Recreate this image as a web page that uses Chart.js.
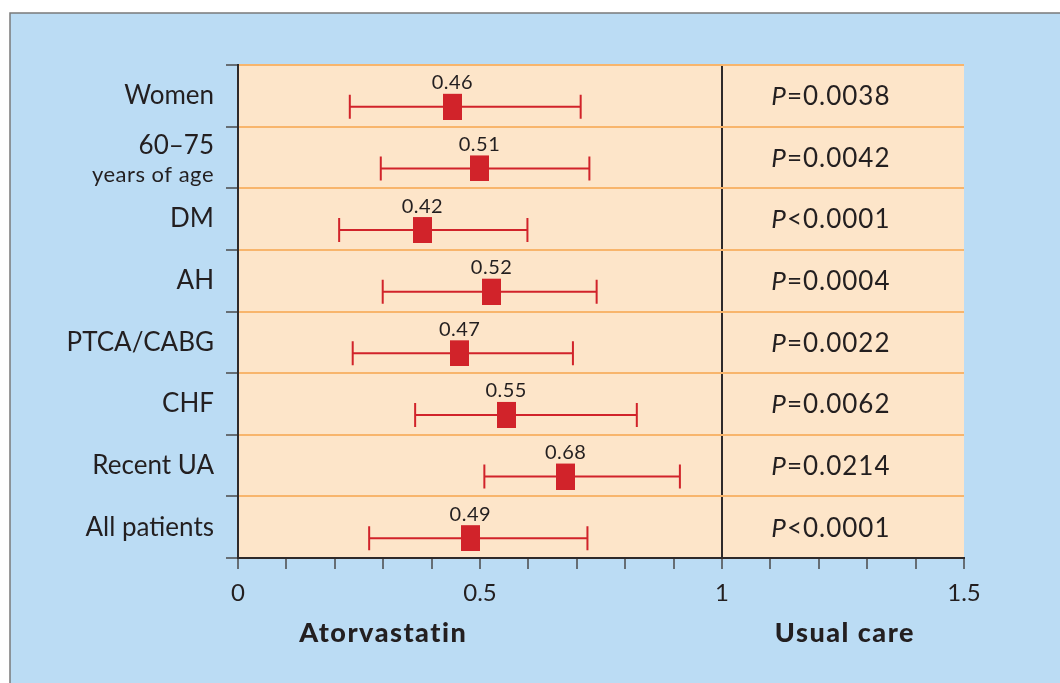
<!DOCTYPE html>
<html lang="en">
  <head>
    <meta charset="UTF-8" />
    <title>Atorvastatin vs usual care</title>
    <script src="https://cdn.jsdelivr.net/npm/chart.js@4"></script>
    <style>
      body { margin: 0; background: #fff; }
    </style>
  </head>
  <body>
    <canvas id="myChart" width="1060" height="683"></canvas>

    <script>
      // subgroups, top to bottom
      const groups = ['Women', '60–75', 'DM', 'AH', 'PTCA/CABG', 'CHF', 'Recent UA', 'All patients'];
      const groupNotes = ['', 'years of age', '', '', '', '', '', ''];
      // point estimate and 95% CI as drawn
      const estimates = [0.443, 0.499, 0.381, 0.524, 0.458, 0.554, 0.677, 0.480];
      const lower = [0.231, 0.295, 0.209, 0.299, 0.237, 0.366, 0.509, 0.271];
      const upper = [0.708, 0.726, 0.598, 0.741, 0.692, 0.824, 0.913, 0.722];
      const ratioLabels = ['0.46', '0.51', '0.42', '0.52', '0.47', '0.55', '0.68', '0.49'];
      const pSigns = ['=', '=', '<', '=', '=', '=', '=', '<'];
      const pValues = ['0.0038', '0.0042', '0.0001', '0.0004', '0.0022', '0.0062', '0.0214', '0.0001'];
      const xTickLabels = [0, 0.5, 1, 1.5];

      const BLUE = '#bbdcf4';
      const PEACH = '#fde5c9';
      const ORANGE = '#f8b56c';
      const RED = '#d1232a';
      const INK = '#231f20';
      const FONT = 'Lato, "DejaVu Sans", sans-serif';

      // square marker, drawn lower than the row centre
      const marker = document.createElement('canvas');
      marker.width = 19;
      marker.height = 48;
      const mctx = marker.getContext('2d');
      mctx.fillStyle = RED;
      mctx.fillRect(0, 22, 19, 26);

      const forest = {
        id: 'forest',
        beforeDraw(chart) {
          const { ctx, chartArea: a } = chart;
          ctx.save();
          ctx.fillStyle = '#fff';
          ctx.fillRect(0, 0, chart.width, chart.height);
          ctx.fillStyle = BLUE;
          ctx.fillRect(10, 13, chart.width - 10, chart.height - 13);
          ctx.strokeStyle = '#7a7a7a';
          ctx.lineWidth = 1.5;
          ctx.beginPath();
          ctx.moveTo(10, chart.height);
          ctx.lineTo(10, 13);
          ctx.lineTo(chart.width, 13);
          ctx.stroke();
          ctx.fillStyle = PEACH;
          ctx.fillRect(a.left, a.top, a.right - a.left, a.bottom - a.top);
          ctx.restore();
        },
        beforeDatasetsDraw(chart) {
          const { ctx, scales: { x, y } } = chart;
          ctx.save();
          ctx.strokeStyle = RED;
          ctx.lineWidth = 2;
          groups.forEach((g, i) => {
            const yc = y.getPixelForValue(i) + 11;
            const x0 = x.getPixelForValue(lower[i]);
            const x1 = x.getPixelForValue(upper[i]);
            ctx.beginPath();
            ctx.moveTo(x0, yc);
            ctx.lineTo(x1, yc);
            ctx.moveTo(x0, yc - 12);
            ctx.lineTo(x0, yc + 12);
            ctx.moveTo(x1, yc - 12);
            ctx.lineTo(x1, yc + 12);
            ctx.stroke();
          });
          ctx.restore();
        },
        afterDatasetsDraw(chart) {
          const { ctx, scales: { x, y } } = chart;
          ctx.save();
          ctx.fillStyle = INK;
          ctx.textBaseline = 'middle';
          groups.forEach((g, i) => {
            const yc = y.getPixelForValue(i);
            // value above marker
            ctx.textAlign = 'center';
            ctx.letterSpacing = '0.5px';
            ctx.font = '20px ' + FONT;
            ctx.fillText(ratioLabels[i], x.getPixelForValue(estimates[i]), yc - 13);

            // P value in the usual care panel
            ctx.letterSpacing = '1px';
            ctx.font = 'italic 26px ' + FONT;
            const pW = ctx.measureText('P').width;
            ctx.font = '26px ' + FONT;
            const rest = pSigns[i] + pValues[i];
            const rW = ctx.measureText(rest).width;
            const cx = x.getPixelForValue(1.225);
            const start = cx - (pW + rW) / 2;
            ctx.textAlign = 'left';
            ctx.font = 'italic 26px ' + FONT;
            ctx.fillText('P', start, yc + 1);
            ctx.font = '26px ' + FONT;
            ctx.fillText(rest, start + pW, yc + 1);

            // row labels
            ctx.letterSpacing = '0px';
            ctx.textAlign = 'right';
            if (groupNotes[i]) {
              ctx.font = '26px ' + FONT;
              ctx.fillText(g, 214, yc - 12);
              ctx.letterSpacing = '0.5px';
              ctx.font = '22px ' + FONT;
              ctx.fillText(groupNotes[i], 214, yc + 17);
              ctx.letterSpacing = '0px';
            } else {
              ctx.font = '26px ' + FONT;
              ctx.fillText(g, 214, yc);
            }
          });

          ctx.textAlign = 'center';
          ctx.letterSpacing = '1.5px';
          ctx.font = '900 27px ' + FONT;
          ctx.fillText('Atorvastatin', x.getPixelForValue(0.3), 633);
          ctx.fillText('Usual care', x.getPixelForValue(1.254), 633);
          ctx.restore();
        }
      };

      const ctx = document.getElementById('myChart').getContext('2d');
      const myChart = new Chart(ctx, {
        type: 'scatter',
        data: {
          labels: groups,
          datasets: [
            {
              label: 'Atorvastatin',
              data: groups.map((g, i) => ({ x: estimates[i], y: g })),
              pointStyle: marker,
              pointRadius: 10,
              pointHoverRadius: 10
            }
          ]
        },
        options: {
          responsive: false,
          devicePixelRatio: 1,
          animation: false,
          layout: { padding: { left: 10, right: 96, top: 65, bottom: 0 } },
          plugins: {
            legend: { display: false },
            tooltip: { enabled: false }
          },
          scales: {
            x: {
              type: 'linear',
              min: 0,
              max: 1.5,
              afterFit: s => { s.height = 125; },
              afterBuildTicks: s => {
                const t = [];
                for (let k = 0; k <= 15; k++) t.push({ value: k / 10 });
                s.ticks = t;
              },
              ticks: {
                autoSkip: false,
                maxRotation: 0,
                padding: 10,
                color: INK,
                font: { family: FONT, size: 24 },
                callback: v => {
                  const hit = xTickLabels.find(l => Math.abs(l - v) < 1e-6);
                  return hit === undefined ? '' : String(hit);
                }
              },
              grid: {
                color: c => (c.tick && Math.abs(c.tick.value - 1) < 1e-6 ? '#2e2a2a' : 'rgba(0,0,0,0)'),
                lineWidth: 2,
                tickColor: '#4a4a4a',
                tickLength: 11,
                tickWidth: 1.5
              },
              border: { color: '#2e2a2a', width: 2 }
            },
            y: {
              type: 'category',
              labels: groups,
              offset: true,
              afterFit: s => { s.width = 228; },
              ticks: { callback: () => '' },
              grid: {
                offset: true,
                color: ORANGE,
                lineWidth: 2,
                tickColor: '#4a4a4a',
                tickLength: 12,
                tickWidth: 1.5
              },
              border: { color: '#2e2a2a', width: 2 }
            }
          }
        },
        plugins: [forest]
      });
    </script>
  </body>
</html>
